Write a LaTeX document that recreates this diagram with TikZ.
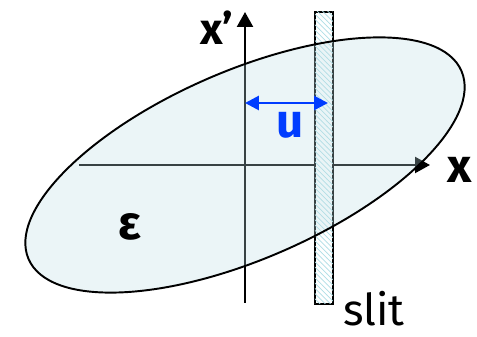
\documentclass[tikz,border=0pt]{standalone}
\usepackage{fontspec}
\setmainfont{Fira Sans}
\usetikzlibrary{arrows.meta, patterns}

\begin{document}
\begin{tikzpicture}[x=0.02cm, y=0.02cm]
    % Define colours
    \definecolor{borderColour}{HTML}{000000}
    \definecolor{fillColour}{RGB}{188,221,228}
    \definecolor{hatchColour}{RGB}{175,222,230}
    \definecolor{arrowColour}{RGB}{0,60,255}

    % Macros for the phase space ellipse
    \def\ellipseA{236} % semi-major axis
    \def\ellipseB{94}  % semi-minor axis
    \def\ellipseTilt{23.5} % tilt of the ellipse in degrees

    % Macros for the slit
    \def\slitLeft{70}  % left edge of the slit
    \def\slitRight{88} % right edge of the slit

    % Fix the margins
    \useasboundingbox (-245,-172) rectangle (232,165);

  % Ends of the axes
  \coordinate (xStart) at (-166,0);
  \coordinate (xEnd) at (185,0);
  \coordinate (xpStart) at (0,-138);
  \coordinate (xpEnd) at (0,153);

  % Draw the axes
  \draw[borderColour, line width=1.3pt, -{Triangle[length=0.3cm,width=0.32cm]}] (xStart) -- (xEnd);
  \draw[borderColour, line width=1.3pt, -{Triangle[length=0.3cm,width=0.32cm]}] (xpStart) -- (xpEnd);

  % Draw the slit
  \coordinate (slitBottom) at (\slitLeft,-139);
  \coordinate (slitTop) at (\slitRight,153);
  \filldraw[fill=white, draw=borderColour, line width=0.8pt,
    postaction={pattern=north west lines, pattern color=hatchColour}] (slitBottom) rectangle (slitTop);

  % Draw the ellipse
  \filldraw[fill=fillColour, draw=borderColour, line width=1.1pt, fill opacity=0.3, rotate=\ellipseTilt]
    (0,0) ellipse [x radius=\ellipseA, y radius=\ellipseB];

  % Draw the offset u
  \coordinate (uLeft) at (0,62);
  \coordinate (uRight) at (83,62);
  \draw[arrowColour, line width=1.6pt, {Triangle[length=0.28cm,width=0.28cm]}-{Triangle[length=0.28cm,width=0.28cm]}] (uLeft) -- (uRight);

  % Label the axes, the ellipse and the slit
  \node[anchor=base, font=\fontsize{25}{30}\selectfont\bfseries] (xpLabel) at (-28,120) {x'};
  \node[anchor=base, font=\fontsize{27}{32}\selectfont\bfseries] (xLabel) at (215,-18) {x};
  \node[anchor=base, font=\fontsize{27}{32}\selectfont\bfseries] (epsLabel) at (-115,-75) {ε};
  \node[anchor=base, font=\fontsize{27}{32}\selectfont\bfseries, text=arrowColour] (uLabel) at (45,27) {u};
  \node[anchor=base, inner sep=1pt, font=\fontsize{25}{30}\selectfont] (slitLabel) at (129,-161) {slit};

\end{tikzpicture}
\end{document}
